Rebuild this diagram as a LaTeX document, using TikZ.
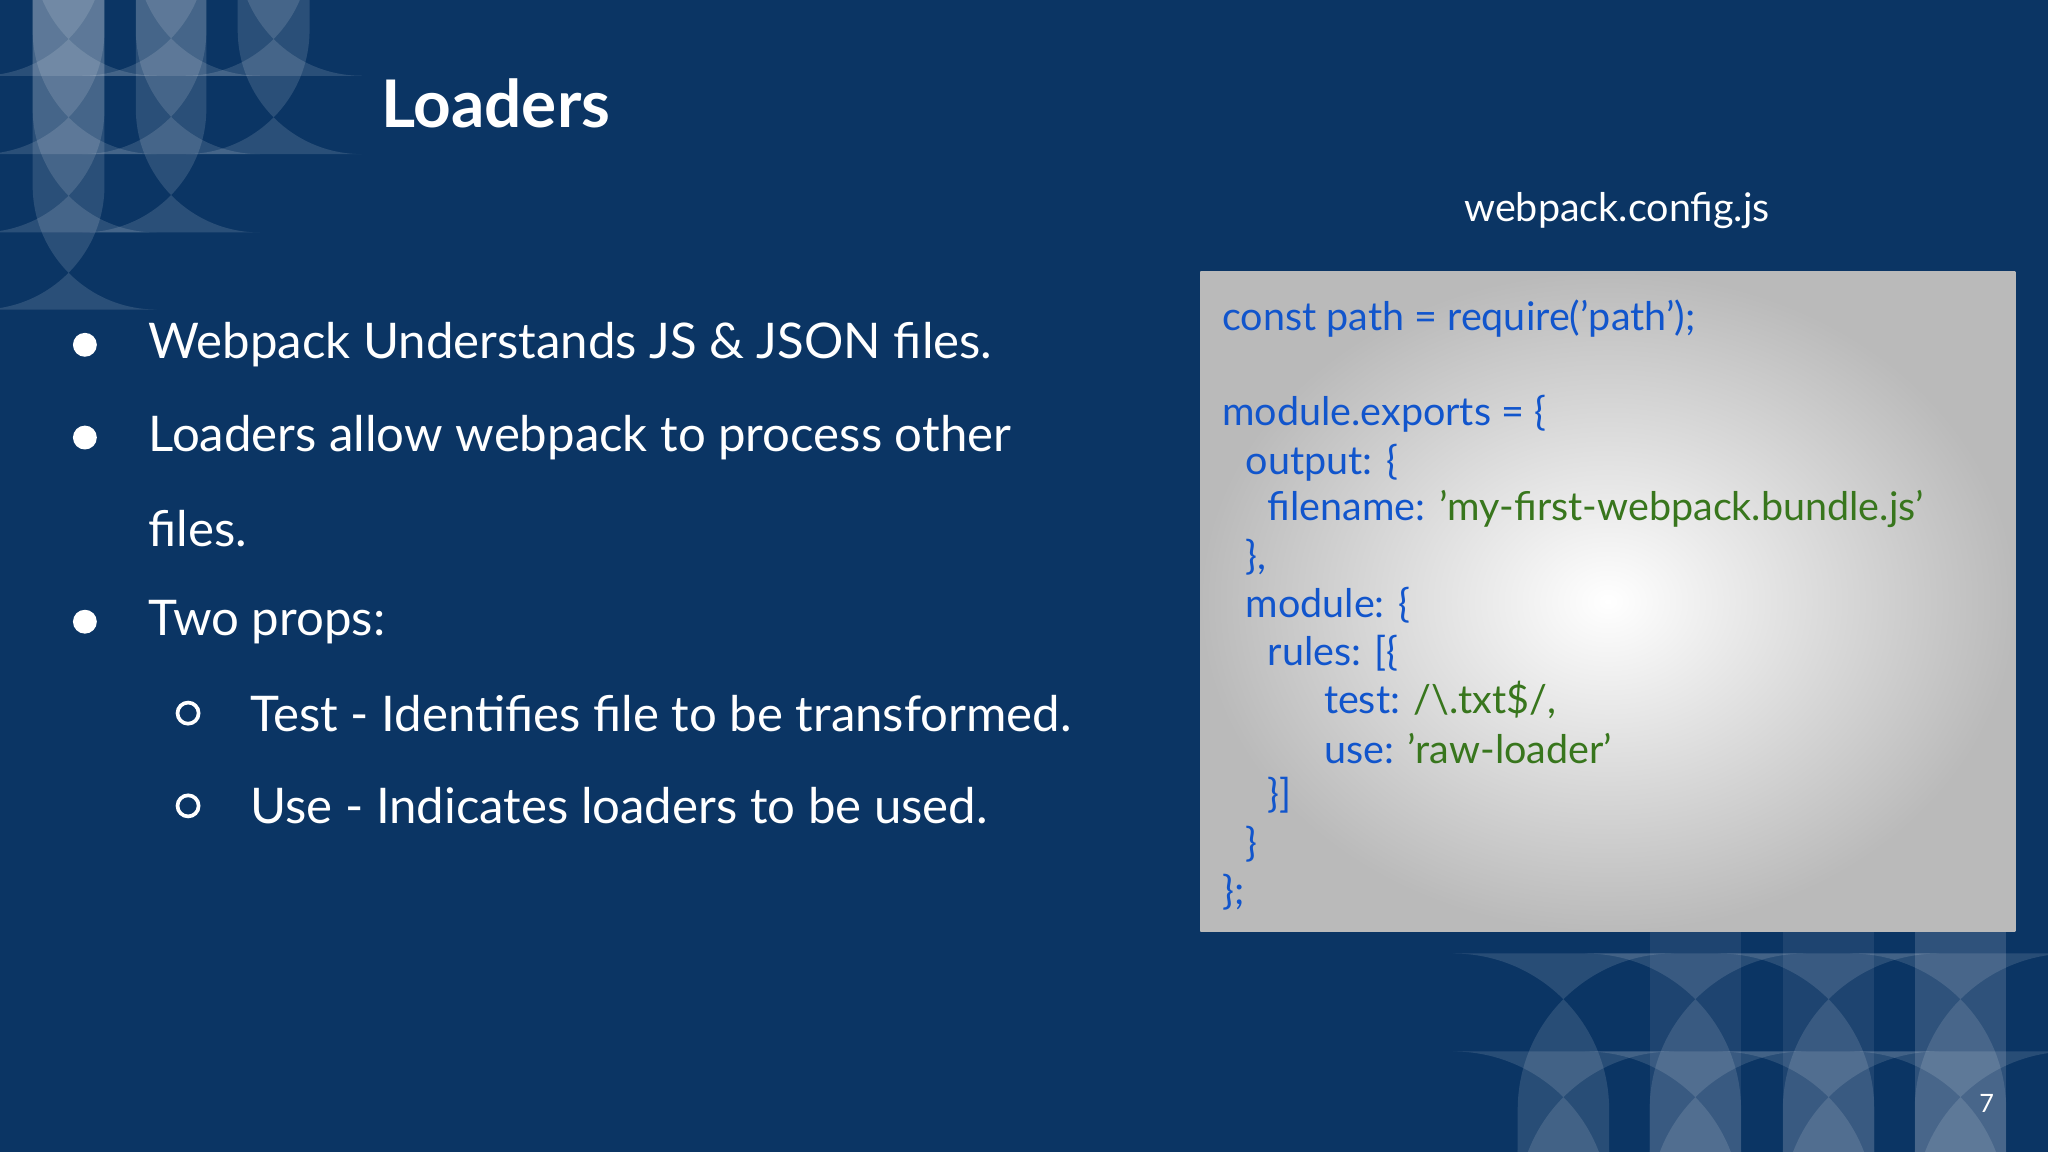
\documentclass[tikz,border=0pt]{standalone}
\usepackage{fontspec}
\setmainfont{Lato}
\definecolor{bg}{HTML}{0B3564}
\definecolor{cblue}{HTML}{1155CC}
\definecolor{cgreen}{HTML}{38761D}
\begin{document}
\begin{tikzpicture}[x=0.01cm,y=-0.01cm,
  pill/.style={fill=white,fill opacity=0.13,rounded corners=27pt},
  bpill/.style={fill=white,fill opacity=0.12,rounded corners=34pt},
  body/.style={anchor=west,text=white,font=\fontsize{10.7}{12}\selectfont,inner sep=0},
  code/.style={anchor=west,text=cblue,font=\fontsize{8.6}{10}\selectfont,inner sep=0}]
\fill[bg] (0,0) rectangle (1568,882);
\useasboundingbox (0,0) rectangle (1568,882);
% top-left pills
\foreach \e in {58,118,178,237} \fill[pill] (25,-100) rectangle (80,\e);
\foreach \e in {58,118,178} \fill[pill] (104,-100) rectangle (158,\e);
\foreach \e in {58,118} \fill[pill] (182,-100) rectangle (237,\e);
% bottom-right pills
\foreach \x in {1263,1365,1466} \fill[white,fill opacity=0.08] (\x,713) rectangle (\x+70,882);
\foreach \x in {1162,1263,1365,1466} {
  \fill[bpill] (\x,730) rectangle (\x+70,1000);
  \fill[bpill] (\x,805) rectangle (\x+70,1000);}
\fill[white,fill opacity=0.08] (1466,713) rectangle (1536,882);
% title
\node[anchor=west,text=white,font=\bfseries\fontsize{14.3}{16}\selectfont,inner sep=0] (title) at (291,79) {Loaders};
% bullets
\foreach \y/\n in {264/a,335/b,476/c} \node[circle,fill=white,inner sep=0,minimum size=5.2pt] (d\n) at (65,\y) {};
\foreach \y/\n in {546/e,617/f} \node[circle,draw=white,line width=0.8pt,inner sep=0,minimum size=4.6pt] (d\n) at (144,\y) {};
\node[body] (ta) at (113,264) {Webpack Understands JS \& JSON files.};
\node[body] (tb) at (113,335) {Loaders allow webpack to process other};
\node[body] (tb2) at (113,405) {files.};
\node[body] (tc) at (113,476) {Two props:};
\node[body] (te) at (191,546) {Test - Identifies file to be transformed.};
\node[body] (tf) at (191,617) {Use - Indicates loaders to be used.};
% code
\node[anchor=center,text=white,font=\fontsize{8.6}{10}\selectfont,inner sep=0] (fname) at (1238,161) {webpack.config.js};
\shade[inner color=white,outer color=black!27] (919,208) rectangle (1543,713);
\node[code] (c1) at (935,244) {const path = require('path');};
\node[code] (c2) at (935,317) {module.exports = \{};
\node[code] (c3) at (953,354) {output: \{};
\node[code] (c4) at (970,390) {filename: \textcolor{cgreen}{'my-first-webpack.bundle.js'}};
\node[code] (c5) at (953,427) {\},};
\node[code] (c6) at (953,463) {module: \{};
\node[code] (c7) at (970,500) {rules: [\{};
\node[code] (c8) at (1013,536) {test: \textcolor{cgreen}{/\textbackslash.txt\$/,}};
\node[code] (c9) at (1013,573) {use: \textcolor{cgreen}{'raw-loader'}};
\node[code] (c10) at (970,609) {\}]};
\node[code] (c11) at (953,646) {\}};
\node[code] (c12) at (935,683) {\};};
\node[anchor=center,text=white,font=\fontsize{5.5}{6}\selectfont,inner sep=0] (pg) at (1521,845) {7};
\end{tikzpicture}
\end{document}
